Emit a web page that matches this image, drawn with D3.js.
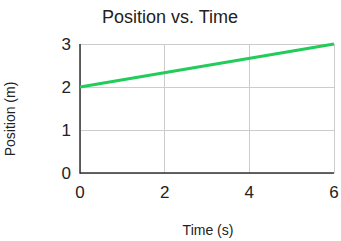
<!DOCTYPE html>
<html>
  <head>
    <meta charset="utf-8">
    <title>Position vs. Time</title>
    <style>
      body { margin: 0; background: #fff; }
      text { font-family: "Liberation Sans", Arial, sans-serif; fill: #222; }
    </style>
  </head>
  <body>
    <svg width="341" height="241"></svg>
  </body>
  <script type="text/javascript" src="https://d3js.org/d3.v7.min.js"></script>
  <script type="text/javascript">
    // data
    var times = [0, 6];
    var positions = [2, 3];
    var xTicks = [0, 2, 4, 6];
    var yTicks = [0, 1, 2, 3];

    var svg = d3.select("svg");
    var plotLeft = 80, plotRight = 334, plotTop = 44, plotBottom = 173;

    var x = d3.scaleLinear().domain([0, 6]).range([plotLeft, plotRight]);
    var y = d3.scaleLinear().domain([0, 3]).range([plotBottom, plotTop]);

    // gridlines
    svg.append("g").selectAll("line")
      .data(xTicks).enter().append("line")
      .attr("x1", function(d) { return x(d); })
      .attr("x2", function(d) { return x(d); })
      .attr("y1", plotTop).attr("y2", plotBottom)
      .attr("stroke", "#cccccc").attr("stroke-width", 1)
      .attr("shape-rendering", "crispEdges");

    svg.append("g").selectAll("line")
      .data(yTicks).enter().append("line")
      .attr("y1", function(d) { return y(d); })
      .attr("y2", function(d) { return y(d); })
      .attr("x1", plotLeft).attr("x2", plotRight)
      .attr("stroke", "#cccccc").attr("stroke-width", 1)
      .attr("shape-rendering", "crispEdges");

    // axis lines
    svg.append("line").attr("x1", plotLeft).attr("x2", plotLeft)
      .attr("y1", plotTop).attr("y2", plotBottom + 0.75)
      .attr("stroke", "#333").attr("stroke-width", 1.5);
    svg.append("line").attr("x1", plotLeft).attr("x2", plotRight)
      .attr("y1", plotBottom).attr("y2", plotBottom)
      .attr("stroke", "#333").attr("stroke-width", 1.5);

    // tick labels
    svg.append("g").selectAll("text")
      .data(xTicks).enter().append("text")
      .attr("x", function(d) { return x(d); })
      .attr("y", 198)
      .attr("text-anchor", "middle")
      .attr("font-size", 17)
      .text(function(d) { return d; });

    svg.append("g").selectAll("text")
      .data(yTicks).enter().append("text")
      .attr("x", 71)
      .attr("y", function(d) { return y(d) + 6; })
      .attr("text-anchor", "end")
      .attr("font-size", 17)
      .text(function(d) { return d; });

    // line
    var line = d3.line()
      .x(function(d, i) { return x(times[i]); })
      .y(function(d) { return y(d); });

    svg.append("path")
      .datum(positions)
      .attr("d", line)
      .attr("fill", "none")
      .attr("stroke", "#22cc5b")
      .attr("stroke-width", 3);

    // titles
    svg.append("text").attr("x", 170).attr("y", 23)
      .attr("text-anchor", "middle").attr("font-size", 18)
      .text("Position vs. Time");

    svg.append("text").attr("x", 208).attr("y", 235)
      .attr("text-anchor", "middle").attr("font-size", 14)
      .text("Time (s)");

    svg.append("text")
      .attr("transform", "translate(14.5,119) rotate(-90)")
      .attr("text-anchor", "middle").attr("font-size", 14)
      .text("Position (m)");
  </script>
</html>
